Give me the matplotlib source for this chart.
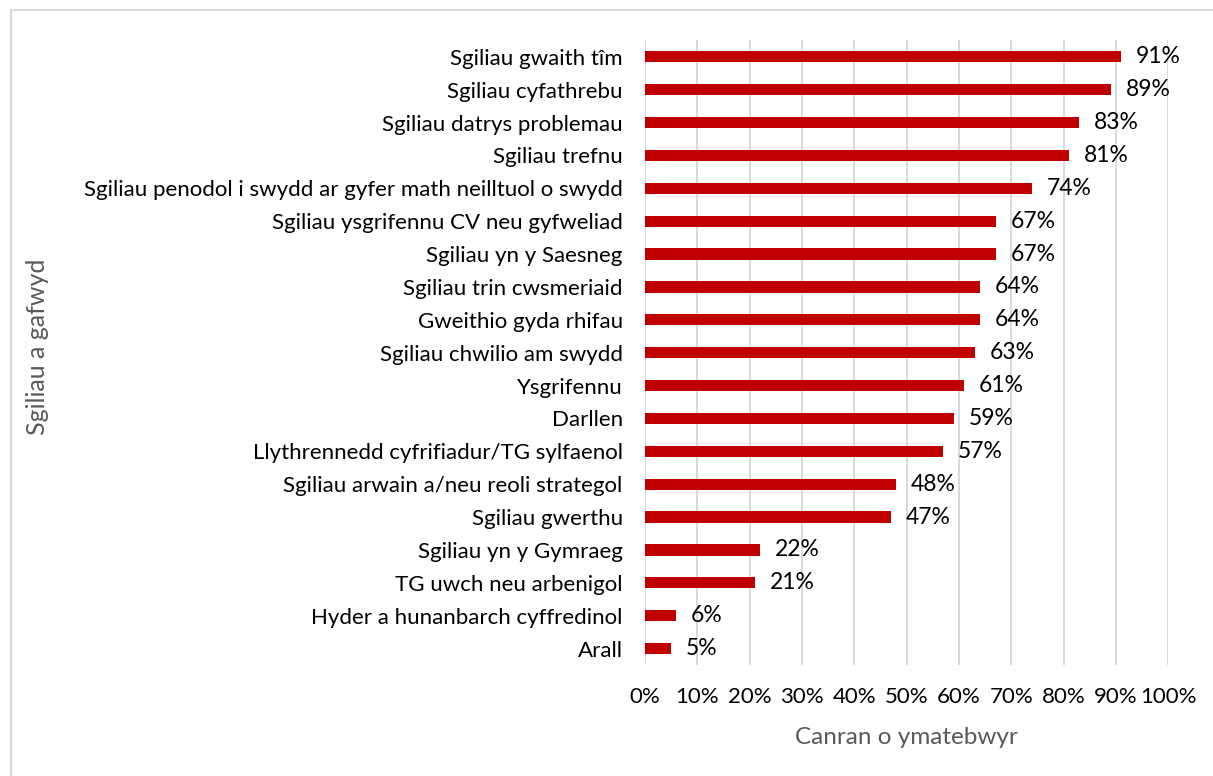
import matplotlib
matplotlib.use("Agg")
import matplotlib.pyplot as plt
from matplotlib.patches import Rectangle

# skills gained, top to bottom
skills = [
    "Sgiliau gwaith tîm",
    "Sgiliau cyfathrebu",
    "Sgiliau datrys problemau",
    "Sgiliau trefnu",
    "Sgiliau penodol i swydd ar gyfer math neilltuol o swydd",
    "Sgiliau ysgrifennu CV neu gyfweliad",
    "Sgiliau yn y Saesneg",
    "Sgiliau trin cwsmeriaid",
    "Gweithio gyda rhifau",
    "Sgiliau chwilio am swydd",
    "Ysgrifennu",
    "Darllen",
    "Llythrennedd cyfrifiadur/TG sylfaenol",
    "Sgiliau arwain a/neu reoli strategol",
    "Sgiliau gwerthu",
    "Sgiliau yn y Gymraeg",
    "TG uwch neu arbenigol",
    "Hyder a hunanbarch cyffredinol",
    "Arall",
]
pct = [91, 89, 83, 81, 74, 67, 67, 64, 64, 63, 61, 59, 57, 48, 47, 22, 21, 6, 5]

xticks = list(range(0, 101, 10))
xlabels = [f"{t}%" for t in xticks]

plt.rcParams["font.family"] = ["Lato", "DejaVu Sans"]
fs = 16

fig = plt.figure(figsize=(12.13, 7.76), dpi=100)
ax = fig.add_axes([0.5317, 0.143, 0.4316, 0.805])

ypos = list(range(len(skills)))
ax.barh(ypos, pct, height=0.34, color="#C00000", zorder=3)
for y, v in zip(ypos, pct):
    ax.text(v + 2.8, y, f"{v}%", va="center", ha="left", fontsize=16.5, color="black")

ax.set_ylim(len(skills) - 0.5, -0.5)
ax.set_xlim(0, 100)
ax.set_yticks(ypos)
ax.set_yticklabels(skills, fontsize=fs)
ax.set_xticks(xticks)
ax.set_xticklabels(xlabels, fontsize=fs)
ax.tick_params(length=0)
ax.tick_params(axis="y", pad=16)
ax.tick_params(axis="x", pad=16)
ax.grid(axis="x", color="#D9D9D9", linewidth=1.4, zorder=0)
for s in ax.spines.values():
    s.set_visible(False)

ax.set_xlabel("Canran o ymatebwyr", fontsize=17.5, color="#595959", labelpad=14)
fig.text(38 / 1213, 1 - 347 / 776, "Sgiliau a gafwyd", rotation=90, fontsize=18,
         color="#595959", ha="center", va="center")

# chart frame
fig.patches.append(Rectangle((10.5 / 1213, -0.1), 1.2, 1 - 10.5 / 776 + 0.1,
                             transform=fig.transFigure, fill=False,
                             edgecolor="#D9D9D9", linewidth=1.5))

fig.savefig("out.png", dpi=100)
